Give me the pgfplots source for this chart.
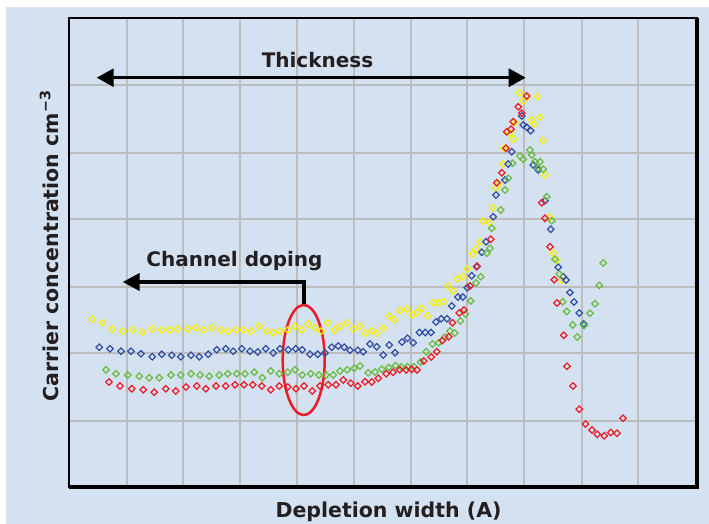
\documentclass[border=0pt]{standalone}
\usepackage{fontspec}
\setmainfont{DejaVu Sans}
\usepackage{pgfplots}
\pgfplotsset{compat=1.18}
\usetikzlibrary{arrows.meta}
\definecolor{bgblue}{RGB}{212,225,241}
\definecolor{gridgray}{RGB}{188,188,188}
\definecolor{txt}{RGB}{35,31,32}
\definecolor{cyellow}{RGB}{248,240,0}
\definecolor{cblue}{RGB}{52,80,165}
\definecolor{cgreen}{RGB}{104,188,64}
\definecolor{cred}{RGB}{237,28,36}
\begin{document}
\begin{tikzpicture}
\useasboundingbox (0,0) rectangle (709pt,-524pt);
\fill[bgblue] (6pt,-7pt) rectangle (709pt,-524pt);
\begin{axis}[
  at={(69pt,-18pt)}, anchor=north west,
  scale only axis, width=628pt, height=469pt,
  xmin=0, xmax=628, ymin=0, ymax=469,
  clip=false,
  axis line style={black, line width=1.6pt},
  xtick={58,114,171,228,285,342,398,455,513,569},
  ytick={66,134,200,268,334,402},
  xticklabels={}, yticklabels={},
  major tick length=0pt,
  grid=major,
  grid style={gridgray, line width=1.6pt},
  font=\fontsize{20.5}{24}\selectfont\bfseries,
  xlabel={Depletion width (A)},
  ylabel={Carrier concentration cm\textsuperscript{−3}},
  xlabel style={at={(axis description cs:0.5088,-0.064)}, anchor=base, text=txt},
  ylabel style={at={(axis description cs:-0.0175,0.514)}, anchor=base, rotate=0, text=txt},
  every axis plot/.append style={only marks, mark=square, mark size=2.3pt,
     mark options={line width=1.25pt, fill=none, solid, rotate=45}},
]
% yellow
\addplot[cyellow] coordinates {
(23.3,168)(33.3,164.3)(43.3,158)(53.7,155.7)(63.7,157)(73.3,154.7)(83.3,158)(92.7,157)(101,157)(108.7,158)(118.7,158)(126.7,159.3)(134.3,157)(143.3,159.3)(151.7,157)(158.7,155.7)(167,157)(174.3,157)(182,155.7)(190,160.7)(197.7,155.7)(204.3,154.3)(211,155.7)(218.7,157)(226,160.7)(232.7,157)(239.3,163)(246,159.3)(252,155.7)(258.7,164.3)(265.3,157)(271,160.7)(277.7,164.3)(284.3,158)(291,160.7)
(296,153.7)(302.7,156)(307.7,153.7)(314.3,158.7)(320.3,171)(325.3,167)(331,176.3)(337.7,177.7)(343.3,172)(347.7,174.3)(352.7,178.7)(358.7,171.3)(364.3,184.3)(369.3,184.3)(374.3,185.3)(379.3,201)(384.3,196)(388.3,208)(393.7,210.3)(398.3,218)(403.7,233)(407,237.7)(411,245.3)(413.7,266)(420.3,264.3)(423.7,279.3)(427,298.7)(429.3,303)(433.7,323)(435,338.7)(441,353.7)(444.3,347.7)(446,364.3)(450.3,394.3)(454.3,386.3)(457.7,390.3)(462.7,367)(465,363)(468.3,390.3)(471,369.7)(473.7,346.3)(476,312)(481,269.7)(484.3,233.7)(487.7,227)(492.7,207)
};
% blue
\addplot[cblue] coordinates {
(30.3,139.7)(41,138.3)(52,135.7)(62,135.7)(72,133.3)(83.3,130.3)(92.7,132.7)(102.7,131.7)(111.7,130.3)(122,131.7)(130.3,130.3)(139.3,132.7)(147.7,137.3)(156.7,138.3)(164.3,135.7)(172.7,138.3)(181,135.7)(188.7,135)(196.7,138.3)(204.3,134)(211,138.3)(219.3,137.3)(226.7,138.3)(233.3,137.3)(241,132.7)(248.7,132.7)(256,134)(262.7,139.7)(269.3,141)(275.3,139.7)(281,136.7)(288.7,136.7)
(294.3,135.3)(301,143)(307.7,140.3)(314.3,132)(320.3,142)(326,134.3)(333,145)(338.5,148.7)(344.3,144.3)(350.5,154.5)(356.3,154.5)(362,154.5)(367,165)(372.3,168.2)(378,168.2)(382.7,181)(389,190)(393.7,190)(398.3,199.3)(402.7,211.3)(407.7,220.3)(412.7,234.7)(417,245.3)(424.3,270.3)(427,292)(436,307)(439.3,323)(442.7,335.3)(452.7,371)(454.3,362)(457.7,359.7)(461.7,356.3)(464.3,322)(469.3,317)(476,286.3)(481.7,257.7)(489.3,219.7)(494.3,210.3)(497,207)(501,194.5)(505,185)(510.3,174)(514.7,163)
};
% green
\addplot[cgreen] coordinates {
(37,117.3)(47,113.3)(58.7,112)(70.3,110.7)(80.3,109.3)(90.3,109.3)(102,112)(111.7,112)(122,113.3)(131,112)(140.3,110.7)(150.3,112)(158.7,113.3)(167.7,113.3)(176,113.3)(185.3,114.7)(193.3,109.3)(201.7,116)(210.3,113.3)(218.7,114.7)(226,117.3)(233.3,112)(241.7,113.3)(250,112)(257,112)(264.3,112)(271,116)(278.3,117.3)(285.3,118.7)(291,121)
(299.3,114.3)(306,115)(312.7,117.7)(319.7,119.5)(326.5,121.5)(332.3,120)(338.5,120.3)(344.7,120.3)(351.5,125)(357.3,135.3)(363.5,143)(369.8,144.3)(375.7,149.7)(381,156)(385.7,154)(391.5,166)(396.5,173)(401.7,186)(407,204)(411.7,210.3)(417.7,233.7)(421,238.7)(422.7,258.7)(431.7,277)(436,297)(439.3,308.7)(443.5,323.7)(451,331)(454.3,327.7)(461,337)(462.7,332)(466,325.3)(469.3,318.7)(471,325.3)(474.3,317.7)(477.7,290.3)(482.7,266.3)(486,227.7)(490.3,213)(493.7,185.3)(497.7,175.5)(503.7,162)(508.3,150)(515,161.5)(521,173.7)(526,183.2)(530.2,201.5)(534.3,224)
};
% red
\addplot[cred] coordinates {
(40,105)(51,101)(62.7,98.3)(74.3,97.3)(85.3,94.7)(96.7,98.3)(106.7,96)(117,100)(127.7,101)(136.7,98.3)(147,101)(156.7,101)(166,102.3)(175,102.3)(183.7,102.3)(192.7,101)(201.7,97.3)(210.3,101)(218.7,100)(227,98.3)(235,101)(243.3,96)(251,101)(259.3,102.3)(267,102.3)(274.3,107)(281.7,103.7)(288.7,101)
(296,105.3)(302.7,105)(309.3,108.7)(317.3,113.2)(324,114.8)(330.7,117.3)(337.3,117)(342.7,117.7)(348,117)(354.7,126)(362.3,130)(367.7,135.3)(373.5,146.5)(379.7,150.3)(383.5,164.3)(390.2,174)(395,177)(401,201)(408,220.7)(421.7,247.7)(427.7,304.3)(432.7,314.3)(437,338.7)(437.7,355.3)(442,357.7)(444.3,365.3)(449.3,380.3)(452.7,373.7)(457.7,391)
(472.7,284.3)(476,268.7)(481,240.3)(485.2,207.3)(488,184)(494.7,151.7)(498,120.7)(504,101)(510.3,77.7)(516.5,63)(523,57)(528.2,52.8)(535.2,51.3)(541.7,54.5)(548,53.7)(554,68.7)
};
% annotations
\draw[line width=3pt, {Triangle[length=17pt,width=18pt]}-{Triangle[length=17pt,width=18pt]}]
  (axis cs:27.7,409.3) -- (axis cs:456.7,409.3);
\node[anchor=base, text=txt, font=\fontsize{20}{24}\selectfont\bfseries] at (axis cs:248.5,420) {Thickness};
\draw[line width=4pt, -{Triangle[length=17pt,width=17pt]}]
  (axis cs:235,182) -- (axis cs:235,205) -- (axis cs:53.7,205);
\node[anchor=base, text=txt, font=\fontsize{20}{24}\selectfont\bfseries] at (axis cs:165.5,221) {Channel doping};
\draw[cred, line width=2.5pt] (axis cs:234.7,127) ellipse [x radius=21pt, y radius=55pt];
\draw[black, line width=3.5pt] (rel axis cs:0,0) -- (rel axis cs:1,0) -- (rel axis cs:1,1);
\end{axis}
\end{tikzpicture}
\end{document}
